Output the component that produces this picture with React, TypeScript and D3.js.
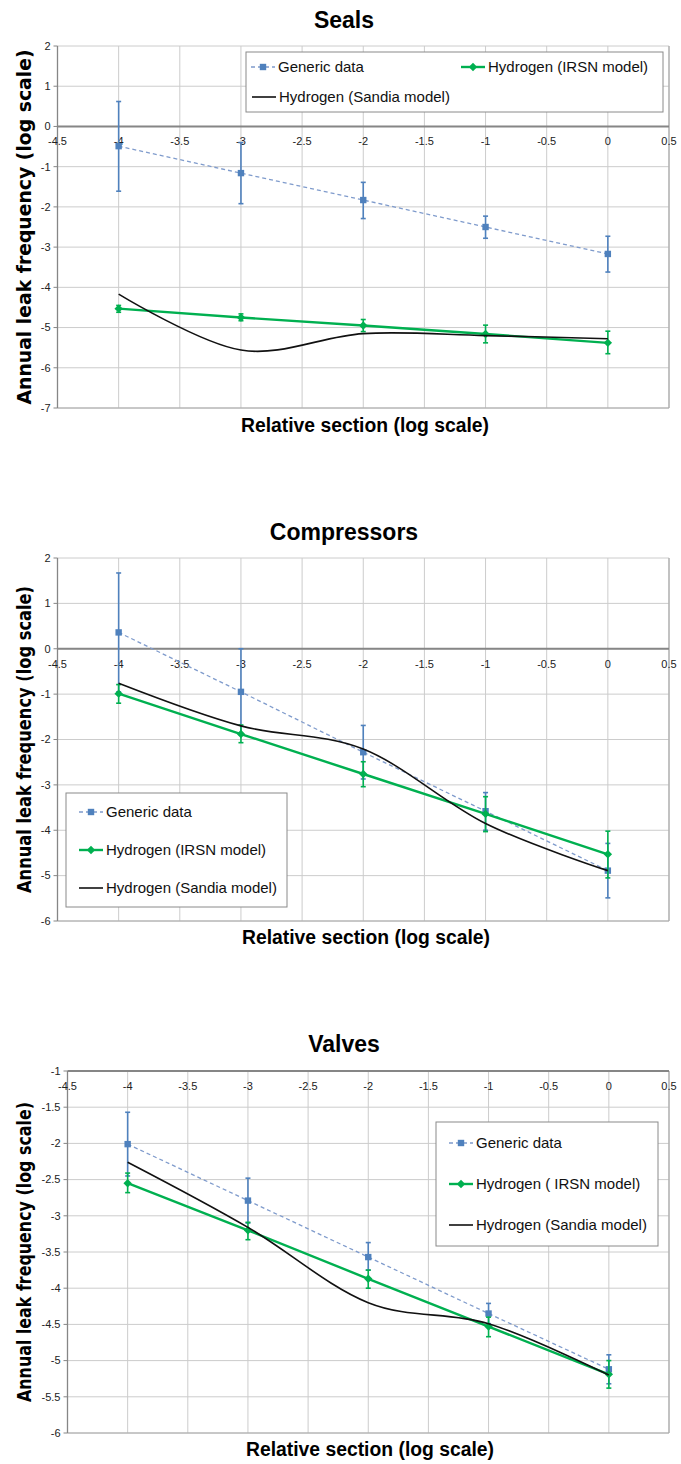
import React from 'react';
import * as d3 from 'd3';

// ---------- DATA ----------
const xCategories = [-4, -3, -2, -1, 0];
const xTickValues = [-4.5, -4, -3.5, -3, -2.5, -2, -1.5, -1, -0.5, 0, 0.5];

const legendLabels = ['Generic data', 'Hydrogen (IRSN model)', 'Hydrogen (Sandia model)'];
const valvesLegendLabels = ['Generic data', 'Hydrogen ( IRSN model)', 'Hydrogen (Sandia model)'];

// Seals
const sealsYTicks = [2, 1, 0, -1, -2, -3, -4, -5, -6, -7];
const sealsGeneric = [-0.49, -1.16, -1.83, -2.50, -3.17];
const sealsGenericHi = [0.62, -0.40, -1.39, -2.23, -2.73];
const sealsGenericLo = [-1.61, -1.92, -2.29, -2.78, -3.62];
const sealsIrsn = [-4.53, -4.75, -4.95, -5.16, -5.38];
const sealsIrsnHi = [-4.45, -4.66, -4.80, -4.94, -5.09];
const sealsIrsnLo = [-4.62, -4.83, -5.10, -5.38, -5.65];
const sealsSandia = [-4.17, -5.56, -5.15, -5.20, -5.28];

// Compressors
const compYTicks = [2, 1, 0, -1, -2, -3, -4, -5, -6];
const compGeneric = [0.36, -0.95, -2.28, -3.58, -4.89];
const compGenericHi = [1.67, 0.0, -1.69, -3.17, -4.29];
const compGenericLo = [-0.95, -1.90, -2.87, -4.0, -5.49];
const compIrsn = [-0.99, -1.88, -2.76, -3.64, -4.53];
const compIrsnHi = [-0.79, -1.68, -2.49, -3.26, -4.02];
const compIrsnLo = [-1.20, -2.07, -3.04, -4.03, -5.05];
const compSandia = [-0.76, -1.70, -2.21, -3.85, -4.89];

// Valves
const valvYTicks = [-1, -1.5, -2, -2.5, -3, -3.5, -4, -4.5, -5, -5.5, -6];
const valvGeneric = [-2.01, -2.79, -3.57, -4.35, -5.12];
const valvGenericHi = [-1.57, -2.48, -3.37, -4.21, -4.92];
const valvGenericLo = [-2.45, -3.10, -3.75, -4.49, -5.32];
const valvIrsn = [-2.55, -3.20, -3.87, -4.53, -5.19];
const valvIrsnHi = [-2.41, -3.09, -3.75, -4.40, -5.00];
const valvIrsnLo = [-2.68, -3.33, -4.00, -4.67, -5.38];
const valvSandia = [-2.26, -3.16, -4.20, -4.49, -5.20];

// ---------- STYLE ----------
const BLUE = '#4f81bd';
const BLUE_DASH = '#7f9bcc';
const GREEN = '#00b050';
const BLACK = '#111111';
const GRID = '#cccccc';
const AXIS = '#868686';
const FONT = '"Liberation Sans", Arial, sans-serif';
const BOLD_Y = '"DejaVu Sans", Verdana, sans-serif';

type PanelProps = {
  title: string;
  titleY: number;
  top: number;
  bottom: number;
  left: number;
  right: number;
  yDomain: [number, number];
  yTicks: number[];
  axisAt: number;
  generic: number[];
  genericHi: number[];
  genericLo: number[];
  irsn: number[];
  irsnHi: number[];
  irsnLo: number[];
  sandia: number[];
  labels: string[];
  legend: { x: number; y: number; w: number; h: number; items: { x: number; y: number }[] };
  yTitleSize: number;
  yTitleLen: number;
  xTitleX: number;
  xTitleY: number;
};

function Square({ x, y }: { x: number; y: number }) {
  return <rect x={x - 3.2} y={y - 3.2} width={6.4} height={6.4} fill={BLUE} />;
}
function Diamond({ x, y }: { x: number; y: number }) {
  const r = 4.2;
  return <path d={`M${x},${y - r}L${x + r},${y}L${x},${y + r}L${x - r},${y}Z`} fill={GREEN} />;
}

function ErrorBars({ xs, hi, lo, color }: { xs: number[]; hi: number[]; lo: number[]; color: string }) {
  return (
    <g stroke={color} strokeWidth={1.6}>
      {xs.map((x, i) => (
        <g key={i}>
          <line x1={x} x2={x} y1={hi[i]} y2={lo[i]} />
          <line x1={x - 2.5} x2={x + 2.5} y1={hi[i]} y2={hi[i]} />
          <line x1={x - 2.5} x2={x + 2.5} y1={lo[i]} y2={lo[i]} />
        </g>
      ))}
    </g>
  );
}

function Panel(p: PanelProps) {
  const x = d3.scaleLinear().domain([-4.5, 0.5]).range([p.left, p.right]);
  const y = d3.scaleLinear().domain(p.yDomain).range([p.bottom, p.top]);
  const px = xCategories.map((v) => x(v));
  const line = d3
    .line<number>()
    .x((_, i) => px[i])
    .y((v) => y(v));
  const smooth = d3
    .line<number>()
    .x((_, i) => px[i])
    .y((v) => y(v))
    .curve(d3.curveCardinal.tension(0));
  const axisY = y(p.axisAt);
  const midY = (p.top + p.bottom) / 2;

  return (
    <g>
      <text x={344} y={p.titleY} textAnchor="middle" fontFamily={FONT} fontWeight="bold" fontSize={23} fill="#000">
        {p.title}
      </text>
      {/* grid */}
      <g stroke={GRID} strokeWidth={1}>
        {xTickValues.map((t) => (
          <line key={'vx' + t} x1={x(t)} x2={x(t)} y1={p.top} y2={p.bottom} />
        ))}
        {p.yTicks.map((t) => (
          <line key={'hy' + t} x1={p.left} x2={p.right} y1={y(t)} y2={y(t)} />
        ))}
      </g>
      <line x1={p.right} x2={p.right} y1={p.top} y2={p.bottom} stroke="#aaaaaa" strokeWidth={1.2} />
      <line x1={p.left} x2={p.right} y1={p.bottom} y2={p.bottom} stroke="#aaaaaa" strokeWidth={1.2} />
      {/* y axis */}
      <line x1={p.left} x2={p.left} y1={p.top} y2={p.bottom} stroke={AXIS} strokeWidth={1.3} />
      {p.yTicks.map((t) => (
        <g key={'yt' + t}>
          <line x1={p.left - 4} x2={p.left} y1={y(t)} y2={y(t)} stroke={AXIS} strokeWidth={1} />
          <text x={p.left - 7} y={y(t)} dy="0.35em" textAnchor="end" fontFamily={FONT} fontSize={11} fill="#222">
            {String(t)}
          </text>
        </g>
      ))}
      {/* x axis */}
      <line x1={p.left} x2={p.right} y1={axisY} y2={axisY} stroke={AXIS} strokeWidth={2} />
      {xTickValues.map((t) => (
        <text key={'xt' + t} x={x(t)} y={axisY + 15} dy="0.35em" textAnchor="middle" fontFamily={FONT} fontSize={11} fill="#222">
          {String(t)}
        </text>
      ))}
      {/* generic */}
      <ErrorBars xs={px} hi={p.genericHi.map(y)} lo={p.genericLo.map(y)} color={BLUE} />
      <path d={line(p.generic) || ''} fill="none" stroke={BLUE_DASH} strokeWidth={1.3} strokeDasharray="4 3" />
      {p.generic.map((v, i) => (
        <Square key={'g' + i} x={px[i]} y={y(v)} />
      ))}
      {/* IRSN */}
      <ErrorBars xs={px} hi={p.irsnHi.map(y)} lo={p.irsnLo.map(y)} color={GREEN} />
      <path d={line(p.irsn) || ''} fill="none" stroke={GREEN} strokeWidth={2.4} />
      {p.irsn.map((v, i) => (
        <Diamond key={'i' + i} x={px[i]} y={y(v)} />
      ))}
      {/* Sandia */}
      <path d={smooth(p.sandia) || ''} fill="none" stroke={BLACK} strokeWidth={1.6} />
      {/* legend */}
      <rect x={p.legend.x} y={p.legend.y} width={p.legend.w} height={p.legend.h} fill="#fff" stroke="#8a8a8a" strokeWidth={1} />
      {p.legend.items.map((it, i) => (
        <g key={'lg' + i}>
          {i === 0 && (
            <>
              <line x1={it.x} x2={it.x + 24} y1={it.y} y2={it.y} stroke={BLUE_DASH} strokeWidth={1.3} strokeDasharray="4 3" />
              <Square x={it.x + 12} y={it.y} />
            </>
          )}
          {i === 1 && (
            <>
              <line x1={it.x} x2={it.x + 24} y1={it.y} y2={it.y} stroke={GREEN} strokeWidth={2.4} />
              <Diamond x={it.x + 12} y={it.y} />
            </>
          )}
          {i === 2 && <line x1={it.x} x2={it.x + 24} y1={it.y} y2={it.y} stroke={BLACK} strokeWidth={1.6} />}
          <text x={it.x + 27} y={it.y} dy="0.36em" fontFamily={FONT} fontSize={15} fill="#111">
            {p.labels[i]}
          </text>
        </g>
      ))}
      {/* axis titles */}
      <text
        transform={`translate(31,${midY}) rotate(-90)`}
        textAnchor="middle"
        fontFamily={BOLD_Y}
        fontWeight="bold"
        fontSize={p.yTitleSize}
        textLength={p.yTitleLen}
        lengthAdjust="spacingAndGlyphs"
        fill="#000"
      >
        Annual leak frequency (log scale)
      </text>
      <text
        x={p.xTitleX}
        y={p.xTitleY}
        textAnchor="middle"
        fontFamily={FONT}
        fontWeight="bold"
        fontSize={20}
        textLength={248}
        lengthAdjust="spacingAndGlyphs"
        fill="#000"
      >
        Relative section (log scale)
      </text>
    </g>
  );
}

export default function App() {
  return (
    <svg
      width={681}
      height={1464}
      viewBox="0 0 681 1464"
      style={{ position: 'absolute', left: 0, top: 0, background: '#fff' }}
    >
      <rect width={681} height={1464} fill="#fff" />
      <Panel
        title="Seals"
        titleY={28}
        top={46}
        bottom={408}
        left={57.5}
        right={669}
        yDomain={[-7, 2]}
        yTicks={sealsYTicks}
        axisAt={0}
        generic={sealsGeneric}
        genericHi={sealsGenericHi}
        genericLo={sealsGenericLo}
        irsn={sealsIrsn}
        irsnHi={sealsIrsnHi}
        irsnLo={sealsIrsnLo}
        sandia={sealsSandia}
        labels={legendLabels}
        legend={{ x: 246, y: 52, w: 417, h: 60, items: [{ x: 251, y: 67 }, { x: 461, y: 67 }, { x: 252, y: 97 }] }}
        yTitleSize={20}
        yTitleLen={355}
        xTitleX={365}
        xTitleY={432}
      />
      <Panel
        title="Compressors"
        titleY={540}
        top={558}
        bottom={921}
        left={57.5}
        right={669}
        yDomain={[-6, 2]}
        yTicks={compYTicks}
        axisAt={0}
        generic={compGeneric}
        genericHi={compGenericHi}
        genericLo={compGenericLo}
        irsn={compIrsn}
        irsnHi={compIrsnHi}
        irsnLo={compIrsnLo}
        sandia={compSandia}
        labels={legendLabels}
        legend={{ x: 66, y: 793, w: 221, h: 114, items: [{ x: 79, y: 812 }, { x: 79, y: 850 }, { x: 79, y: 888 }] }}
        yTitleSize={19}
        yTitleLen={307}
        xTitleX={366}
        xTitleY={944}
      />
      <Panel
        title="Valves"
        titleY={1052}
        top={1071}
        bottom={1433}
        left={67.5}
        right={669}
        yDomain={[-6, -1]}
        yTicks={valvYTicks}
        axisAt={-1}
        generic={valvGeneric}
        genericHi={valvGenericHi}
        genericLo={valvGenericLo}
        irsn={valvIrsn}
        irsnHi={valvIrsnHi}
        irsnLo={valvIrsnLo}
        sandia={valvSandia}
        labels={valvesLegendLabels}
        legend={{ x: 436, y: 1122, w: 222, h: 124, items: [{ x: 449, y: 1143 }, { x: 449, y: 1184 }, { x: 449, y: 1225 }] }}
        yTitleSize={19}
        yTitleLen={300}
        xTitleX={370}
        xTitleY={1456}
      />
    </svg>
  );
}
